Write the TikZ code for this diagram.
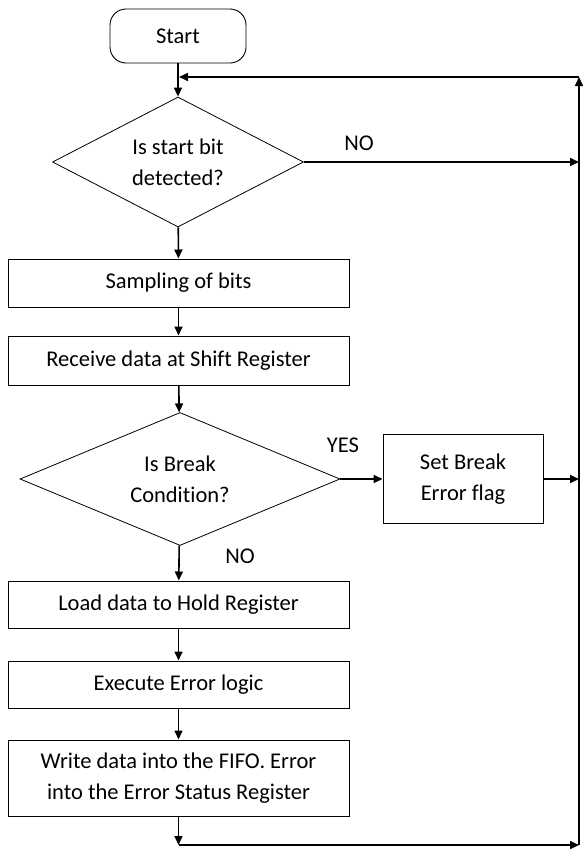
\documentclass[tikz,border=0pt]{standalone}
\usepackage{fontspec}
\setmainfont[Ligatures=NoCommon]{Carlito}
\usetikzlibrary{shapes.geometric,arrows.meta}

\begin{document}
\begin{tikzpicture}[x=1pt,y=-1pt,
    font=\fontsize{22.5}{31}\selectfont,
    >={Triangle[length=9pt,width=8pt]},
    term/.style={draw,line width=0.9pt,rectangle,rounded corners=16pt,
      minimum width=136pt,minimum height=54pt},
    box/.style={draw,line width=1pt,rectangle,minimum width=341pt,align=center},
    test/.style={draw,line width=0.8pt,diamond,aspect=2.2,inner sep=0pt,align=center}]
  \useasboundingbox (0,0) rectangle (582,849);
  \draw
    (178,36) node[term] (0){Start}
    (178,162) node[test,minimum width=251pt,minimum height=130pt] (1){Is start bit\\detected?}
    (178.5,283) node[box,minimum height=48pt] (2){Sampling of bits}
    (178.5,360.5) node[box,minimum height=49pt] (3){Receive data at Shift Register}
    (180,479) node[test,minimum width=320pt,minimum height=133pt] (4){Is Break\\Condition?}
    (463,479) node[box,minimum width=160pt,minimum height=89pt] (5){Set Break\\Error flag}
    (178.5,604.5) node[box,minimum height=47pt] (6){Load data to Hold Register}
    (178.5,684.5) node[box,minimum height=47pt] (7){Execute Error logic}
    (178.5,778) node[box,minimum height=76pt] (8){Write data into the FIFO. Error\\into the Error Status Register};
  % free ends on the return line
  \coordinate (9) at (178.5,845);
  \coordinate (10) at (579,162);
  \coordinate (11) at (579,845);
  \coordinate (12) at (579,479);
  \coordinate (13) at (579,77);
  \coordinate (14) at (179,77);
  % labels
  \node (no1) at (359,143) {NO};
  \node (yes) at (343,445) {YES};
  \node (no2) at (240,556) {NO};
  \begin{scope}[->,line width=1.6pt]
    \draw (0) to (1);
    \draw (1) to (2);
    \draw (2) to (3);
    \draw (3) to (4);
    \draw (4) to (6);
    \draw (6) to (7);
    \draw (7) to (8);
    \draw (8) to (9);
    \draw (1.east) to (10);
    \draw (4.east) to (5);
    \draw (5) to (12);
    \draw (9) to (11);
    \draw (11) to (13);
    \draw (13) to (14);
  \end{scope}
\end{tikzpicture}
\end{document}
